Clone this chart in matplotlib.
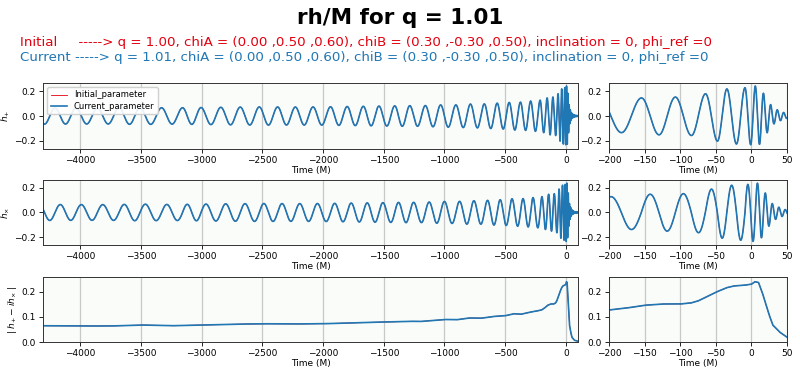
import numpy as np
import matplotlib.pyplot as plt

# amplitude |h+ - i hx|
amp_t = [-4308, -4000, -3750, -3500, -3250, -3000, -2750, -2500, -2250, -2000,
         -1800, -1500, -1300, -1200, -1000, -900, -800, -700, -600, -500,
         -430, -370, -300, -250, -200, -175, -150, -125, -100, -85,
         -75, -60, -50, -35, -25, -10, 0, 5, 10, 15,
         20, 25, 30, 40, 50, 70, 100]
amp_v = [0.065, 0.064, 0.064, 0.068, 0.065, 0.068, 0.071, 0.073, 0.072, 0.073,
         0.076, 0.080, 0.083, 0.082, 0.090, 0.089, 0.096, 0.095, 0.102, 0.105,
         0.113, 0.111, 0.119, 0.123, 0.128, 0.136, 0.147, 0.152, 0.152, 0.156,
         0.164, 0.185, 0.199, 0.217, 0.224, 0.227, 0.231, 0.241, 0.238, 0.200,
         0.155, 0.108, 0.068, 0.039, 0.019, 0.007, 0.003]

# times of the h+ maxima in the long panel (before -200 M)
peak_t = [-4209, -4036, -3860, -3682, -3509, -3331, -3158, -3006, -2843, -2683,
          -2526, -2375, -2229, -2083, -1939, -1802, -1669, -1540, -1410, -1286,
          -1158, -1032, -906, -786, -672, -566, -467, -374, -290, -212]

# times of the h+ extrema (min, max, min, ...) in the zoomed panel
ext_t = [-182.7, -154.6, -129.8, -106.8, -84.4, -64.7, -47.8, -34.5, -21.0, -9.0,
         -1.0, 5.5, 11.5, 17.0, 22.3, 27.2, 31.8, 36.4, 41.0, 45.4]

init_label = "Initial     -----> q = 1.00, chiA = (0.00 ,0.50 ,0.60), chiB = (0.30 ,-0.30 ,0.50), inclination = 0, phi_ref =0"
curr_label = "Current -----> q = 1.01, chiA = (0.00 ,0.50 ,0.60), chiB = (0.30 ,-0.30 ,0.50), inclination = 0, phi_ref =0"

# phase knots: 2*pi per maximum, pi per extremum
kt = list(peak_t) + list(ext_t)
kp = [2 * np.pi * k for k in range(len(peak_t))]
kp += [kp[-1] + np.pi * (k + 1) for k in range(len(ext_t))]
# carry the end spacings out to the edges of the data
w0 = 2 * np.pi / (peak_t[1] - peak_t[0])
w1 = np.pi / (ext_t[-1] - ext_t[-2])
kt = [amp_t[0]] + kt + [amp_t[-1]]
kp = [kp[0] - w0 * (peak_t[0] - amp_t[0])] + kp + [kp[-1] + w1 * (amp_t[-1] - ext_t[-1])]

t = np.arange(amp_t[0], amp_t[-1] + 0.25, 0.25)
amp = np.interp(t, amp_t, amp_v)
phase = np.interp(t, kt, kp)
hp = amp * np.cos(phase)
hc = amp * np.sin(phase)

fig = plt.figure(figsize=(8, 3.73), dpi=100)
face = '#fafcfa'
red = '#e3000f'
blue = '#1f77b4'

fig.text(0.5, 0.953, 'rh/M for q = 1.01', ha='center', va='center', fontsize=15.5, fontweight='bold')
fig.text(0.025, 0.887, init_label, color=red, ha='left', va='center', fontsize=9.6)
fig.text(0.025, 0.847, curr_label, color=blue, ha='left', va='center', fontsize=9.6)

rows = [(0.6005, 0.177), (0.3432, 0.1743), (0.0831, 0.1743)]
left_x, left_w = 0.05375, 0.66875
right_x, right_w = 0.76125, 0.2225

series = [hp, hc, amp]
ylabels = [r'$h_{+}$', r'$h_{\times}$', r'$|\ h_{+} - ih_{\times}\ |$']

for i, (y0, h) in enumerate(rows):
    for j, (x0, w) in enumerate([(left_x, left_w), (right_x, right_w)]):
        ax = fig.add_axes([x0, y0, w, h])
        ax.set_facecolor(face)
        ax.plot(t, series[i], color=red, lw=0.6, label='Initial_parameter')
        ax.plot(t, series[i], color=blue, lw=1.2, label='Current_parameter')
        ax.grid(axis='x', color='#c8c8c8', lw=0.9)
        ax.set_axisbelow(True)
        ax.tick_params(labelsize=6.5, length=3, width=0.6, pad=2)
        for s in ax.spines.values():
            s.set_linewidth(0.7)
            s.set_color('#333333')
        if j == 0:
            ax.set_xlim(amp_t[0], amp_t[-1])
            ax.set_xticks(np.arange(-4000, 1, 500))
            ax.set_ylabel(ylabels[i], fontsize=6.5, labelpad=2)
        else:
            ax.set_xlim(-200, 50)
            ax.set_xticks(np.arange(-200, 51, 50))
        if i < 2:
            ax.set_ylim(-0.265, 0.265)
            ax.set_yticks([-0.2, 0.0, 0.2])
        else:
            ax.set_ylim(0, 0.26)
            ax.set_yticks([0.0, 0.1, 0.2])
        ax.set_xlabel('Time (M)', fontsize=6.5, labelpad=1)
        if i == 0 and j == 0:
            ax.legend(loc='upper left', fontsize=6, handlelength=2.0,
                      borderpad=0.4, labelspacing=0.3, framealpha=0.9)

fig.savefig('out.png', dpi=100)
